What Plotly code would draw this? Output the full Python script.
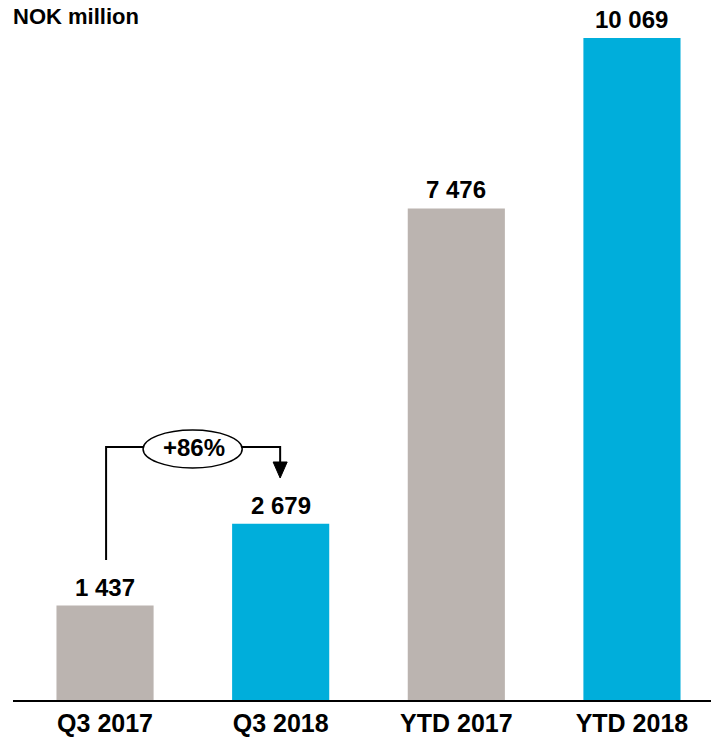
import plotly.graph_objects as go

categories = ["Q3 2017", "Q3 2018", "YTD 2017", "YTD 2018"]
values = [1437, 2679, 7476, 10069]
value_labels = ["1 437", "2 679", "7 476", "10 069"]
bar_colors = ["#BBB4B0", "#00AEDB", "#BBB4B0", "#00AEDB"]
growth_label = "+86%"
unit_label = "NOK million"

FONT = "Liberation Sans, Arial, sans-serif"
x = list(range(len(categories)))

W, H = 711, 739
ML, MT, MB = 13, 0, 39
PLOT_H = H - MT - MB

fig = go.Figure()
fig.add_trace(go.Bar(
    x=x, y=values, width=0.553, marker=dict(color=bar_colors, line=dict(width=0)),
    hoverinfo="skip",
))

for xi, v, lab in zip(x, values, value_labels):
    fig.add_annotation(x=xi, y=v, text=f"<b>{lab}</b>", showarrow=False,
                       yanchor="bottom", yshift=3,
                       font=dict(family=FONT, size=24, color="#000"))

# growth bracket (data coordinates)
y_low = 2129
y_line = 3848
y_tip = 3376
y_head = 3620
fig.add_shape(type="path",
              path=f"M 0.006 {y_low} L 0.006 {y_line} L 0.25 {y_line}",
              line=dict(color="black", width=2), xref="x", yref="y")
fig.add_shape(type="path",
              path=f"M 0.75 {y_line} L 0.997 {y_line} L 0.997 {y_head}",
              line=dict(color="black", width=2), xref="x", yref="y")
fig.add_shape(type="path",
              path=f"M 0.957 {y_head} L 1.037 {y_head} L 0.997 {y_tip} Z",
              fillcolor="black", line=dict(color="black", width=1), xref="x", yref="y")
fig.add_shape(type="circle", x0=0.2165, x1=0.781, y0=3529, y1=4106,
              line=dict(color="black", width=1.5), fillcolor="white", xref="x", yref="y")
fig.add_annotation(x=0.504, y=3840, text=f"<b>{growth_label}</b>", showarrow=False,
                   font=dict(family=FONT, size=24, color="#000"))

fig.add_annotation(x=-0.003, y=1 - 17 / PLOT_H, xref="paper", yref="paper",
                   text=f"<b>{unit_label}</b>", showarrow=False,
                   xanchor="left", yanchor="middle",
                   font=dict(family=FONT, size=22, color="#000"))

fig.update_layout(
    width=W, height=H,
    margin=dict(l=ML, r=0, t=MT, b=MB, pad=0),
    plot_bgcolor="white", paper_bgcolor="white",
    showlegend=False,
    hovermode=False,
    xaxis=dict(range=[-0.524, 3.45], tickmode="array", tickvals=x,
               ticktext=[f"<b>{c}</b>" for c in categories],
               tickfont=dict(family=FONT, size=25, color="#000"),
               showgrid=False, zeroline=False, showline=True, linecolor="black", linewidth=2,
               ticks="", fixedrange=True),
    yaxis=dict(range=[0, PLOT_H / 0.06575], visible=False, showgrid=False,
               zeroline=False, fixedrange=True),
)

fig.write_html("out.html",
               config={"displayModeBar": False, "staticPlot": True},
               post_script="document.body.style.margin='0';document.body.style.overflow='hidden';")
